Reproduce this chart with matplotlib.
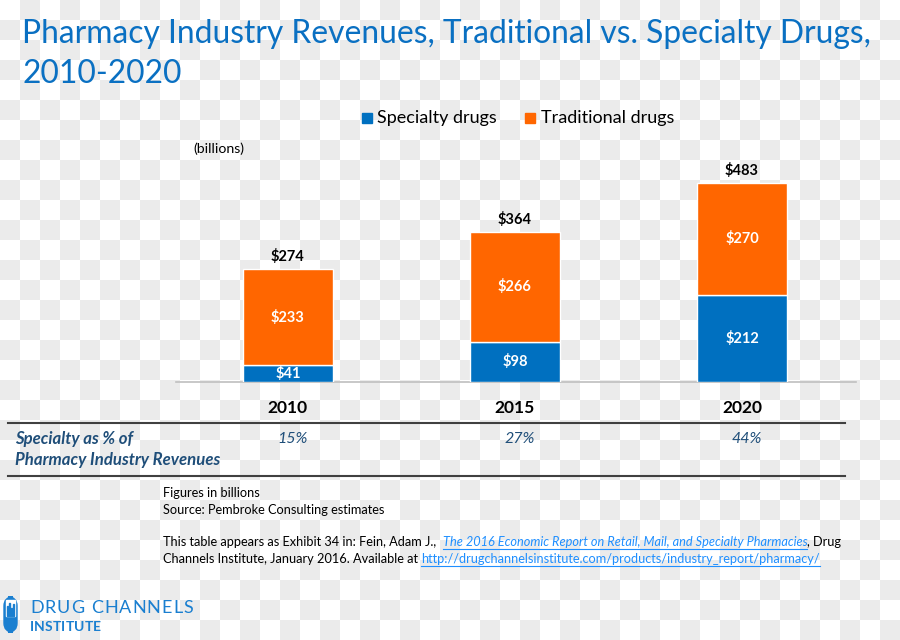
import numpy as np
import matplotlib.pyplot as plt
from matplotlib.patches import FancyBboxPatch, Rectangle
from matplotlib import transforms

# ==================== Data ====================== #

years = ["2010", "2015", "2020"]
specialty = [41, 98, 212]
traditional = [233, 266, 270]
totals = [274, 364, 483]
share_pct = [15, 27, 44]

BLUE = "#0070c0"
ORANGE = "#ff6600"
NAVY = "#1f4e79"
TITLE_BLUE = "#0a70c2"

plt.rcParams['font.family'] = ['Lato', 'DejaVu Sans']

W, H = 900, 640
fig = plt.figure(figsize=(9, 6.4), dpi=100)

# checkerboard background (20 px cells)
yy, xx = np.mgrid[0:H, 0:W]
chk = ((yy // 20 + xx // 20) % 2 == 1)
grey = np.where(chk, 235, 255).astype(float) / 255
bg = np.dstack([grey, grey, grey])
fig.figimage(bg, 0, 0, origin='upper', zorder=-10)


def fx(x):
    return x / W


def fy(y):
    return 1 - y / H


# ==================== Bar chart ====================== #

left, right, base, top = 176, 856, 382, 140
ax = fig.add_axes([fx(left), fy(base), (right - left) / W, (base - top) / H])
ax.patch.set_visible(False)
ax.set_zorder(2)

x = np.arange(len(years))
bw = 0.396
ax.bar(x, specialty, bw, color=BLUE, edgecolor='white', linewidth=1, zorder=3)
ax.bar(x, traditional, bw, bottom=specialty, color=ORANGE, edgecolor='white',
       linewidth=1, zorder=3)

ax.set_xlim(-0.493, 2.502)
ax.set_ylim(0, 587)
for s in ['top', 'right', 'left']:
    ax.spines[s].set_visible(False)
ax.spines['bottom'].set_color('#bfbfbf')
ax.spines['bottom'].set_linewidth(1.2)
ax.set_yticks([])
ax.set_xticks([])

for i in range(len(years)):
    ax.text(x[i], specialty[i] / 2, f"${specialty[i]}", ha='center', va='center',
            color='white', fontsize=10.5, fontweight='bold', zorder=4)
    ax.text(x[i], specialty[i] + traditional[i] / 2, f"${traditional[i]}",
            ha='center', va='center', color='white', fontsize=10.5,
            fontweight='bold', zorder=4)
    ax.text(x[i], totals[i] + 12, f"${totals[i]}", ha='center', va='bottom',
            color='black', fontsize=10.5, fontweight='bold')

# category labels and percentage row use data x, figure y
tr = transforms.blended_transform_factory(ax.transData, fig.transFigure)
for i in range(len(years)):
    fig.text(x[i], fy(408), years[i], transform=tr, ha='center', va='center',
             fontsize=12.5, fontweight='bold', color='black')
    fig.text(x[i] + 0.02, fy(439), f"{share_pct[i]}%", transform=tr, ha='center',
             va='center', fontsize=11.5, style='italic', color=NAVY)

# ==================== Text & decorations ====================== #

fig.text(fx(22), fy(34), "Pharmacy Industry Revenues, Traditional vs. Specialty Drugs,",
         fontsize=22.9, color=TITLE_BLUE, va='center', ha='left')
fig.text(fx(22), fy(74), "2010-2020", fontsize=22.9, color=TITLE_BLUE,
         va='center', ha='left')

# legend
fig.patches.append(Rectangle((fx(362), fy(123)), 10 / W, 10 / H, color=BLUE,
                             transform=fig.transFigure, figure=fig))
fig.text(fx(377), fy(118), "Specialty drugs", fontsize=13, va='center')
fig.patches.append(Rectangle((fx(525), fy(123)), 10 / W, 10 / H, color=ORANGE,
                             transform=fig.transFigure, figure=fig))
fig.text(fx(541), fy(118), "Traditional drugs", fontsize=13, va='center')

fig.text(fx(193), fy(149), "(billions)", fontsize=10.2, va='center')

# table lines
for yl in (423, 476):
    fig.add_artist(plt.Line2D([fx(8), fx(845)], [fy(yl), fy(yl)],
                              color='#404040', linewidth=1.5))

fig.text(fx(15), fy(439), "Specialty as % of", fontsize=12.1, fontweight='bold',
         style='italic', color=NAVY, va='center')
fig.text(fx(15), fy(460), "Pharmacy Industry Revenues", fontsize=12.1,
         fontweight='bold', style='italic', color=NAVY, va='center')

# notes
FS = 9.2
LINK = '#1f8fff'
note_kw = dict(fontsize=FS, va='center', color='black')
fig.text(fx(163), fy(493), "Figures in billions", **note_kw)
fig.text(fx(163), fy(510), "Source: Pembroke Consulting estimates", **note_kw)
t1 = fig.text(fx(163), fy(542), "This table appears as Exhibit 34 in: Fein, Adam J.,  ",
              **note_kw)
fig.canvas.draw()
r = fig.canvas.get_renderer()
bb = t1.get_window_extent(r)
t2 = fig.text(bb.x1 / W, fy(542),
              "The 2016 Economic Report on Retail, Mail, and Specialty Pharmacies",
              fontsize=FS, va='center', color=LINK, style='italic')
bb2 = t2.get_window_extent(r)
fig.add_artist(plt.Line2D([bb2.x0 / W, bb2.x1 / W], [fy(549), fy(549)],
                          color=LINK, linewidth=0.8))
fig.text(bb2.x1 / W, fy(542), ", Drug", **note_kw)
t3 = fig.text(fx(163), fy(559), "Channels Institute, January 2016. Available at ",
              **note_kw)
bb3 = t3.get_window_extent(r)
t4 = fig.text(bb3.x1 / W, fy(559),
              "http://drugchannelsinstitute.com/products/industry_report/pharmacy/",
              fontsize=FS, va='center', color=LINK)
bb4 = t4.get_window_extent(r)
fig.add_artist(plt.Line2D([bb4.x0 / W, bb4.x1 / W], [fy(566), fy(566)],
                          color=LINK, linewidth=0.8))

# logo
LOGO = "#1a7fd0"
cap = FancyBboxPatch((fx(4), fy(632)), 13 / W, 35 / H,
                     boxstyle="round,pad=0,rounding_size=0.01",
                     facecolor=LOGO, edgecolor=LOGO, transform=fig.transFigure,
                     mutation_aspect=W / H)
fig.patches.append(cap)
fig.patches.append(Rectangle((fx(6), fy(616)), 9 / W, 16 / H, color='white',
                             transform=fig.transFigure, figure=fig))
for k, hgt in enumerate([10, 13, 8, 12]):
    fig.patches.append(Rectangle((fx(6.5 + k * 2.2), fy(616)), 1.2 / W, hgt / H,
                                 color=LOGO, transform=fig.transFigure, figure=fig))


def tracked(word, x0, x1, y, **kw):
    # place letters one by one so the word fills x0..x1 (pixels) with even tracking
    arts = [fig.text(0, fy(y), ch, ha='left', va='center', **kw) for ch in word]
    widths = []
    for a, ch in zip(arts, word):
        if ch == ' ':
            widths.append(5.0)
        else:
            widths.append(a.get_window_extent(r).width)
    gap = (x1 - x0 - sum(widths)) / (len(word) - 1)
    pos = x0
    for a, w in zip(arts, widths):
        a.set_x(fx(pos))
        pos += w + gap


tracked("DRUG CHANNELS", 30, 193, 608, fontsize=13, color=LOGO)
tracked("INSTITUTE", 30, 101, 627, fontsize=10, fontweight='bold', color=LOGO)

fig.savefig("out.png", dpi=100)
